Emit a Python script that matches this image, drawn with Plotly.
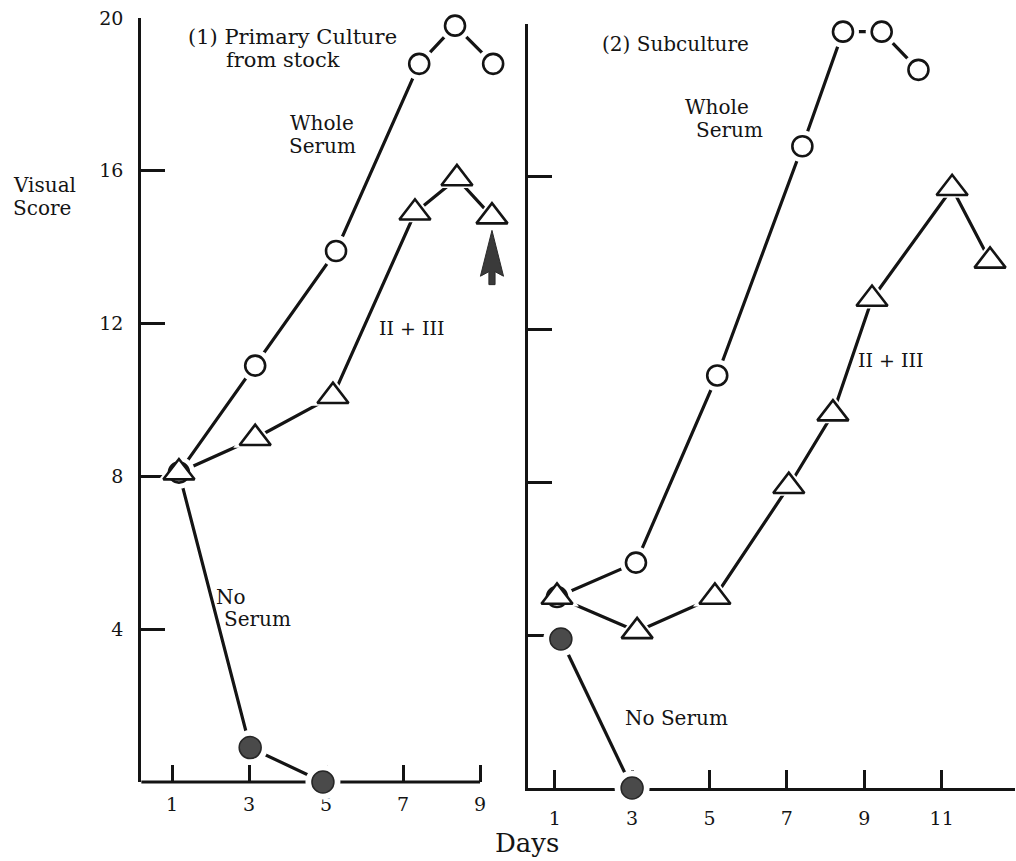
import plotly.graph_objects as go

# ---- data: visual score by day ----
# Panel 1: primary culture from stock
p1_whole_days = [1.18, 3.16, 5.26, 7.42, 8.35, 9.34]
p1_whole_score = [8.1, 10.9, 13.9, 18.8, 19.8, 18.8]
p1_frac_days = [1.18, 3.16, 5.18, 7.31, 8.4, 9.31]
p1_frac_score = [8.1, 9.0, 10.1, 14.9, 15.8, 14.8]
p1_none_days = [1.18, 3.03, 4.92]
p1_none_score = [8.1, 0.9, 0.0]

# Panel 2: subculture
p2_whole_days = [1.06, 3.1, 5.2, 7.4, 8.45, 9.45, 10.4]
p2_whole_score = [5.0, 5.9, 10.8, 16.8, 19.8, 19.8, 18.8]
p2_frac_days = [1.06, 3.13, 5.14, 7.05, 8.19, 9.2, 11.27, 12.25]
p2_frac_score = [5.0, 4.1, 5.0, 7.9, 9.8, 12.8, 15.7, 13.8]
p2_none_days = [1.16, 3.0]
p2_none_score = [3.9, 0.0]

x_ticks_1 = [1, 3, 5, 7, 9]
x_ticks_2 = [1, 3, 5, 7, 9, 11]
y_ticks = [4, 8, 12, 16, 20]

W, H = 1016, 861
INK = "#141414"
FONT = "DejaVu Serif"

fig = go.Figure()


def px_x(p):
    return p / W


def px_y(p):
    return 1 - p / H


def add_line(days, score, xa, ya):
    fig.add_trace(go.Scatter(x=days, y=score, xaxis=xa, yaxis=ya, mode="lines",
                             line=dict(color=INK, width=3.2), hoverinfo="skip",
                             showlegend=False))


def add_halo(days, score, xa, ya, kind):
    # white backing so the connecting lines stop short of each symbol
    sym = {"circle": "circle", "tri": "triangle-up", "dot": "circle"}[kind]
    size = {"circle": 32, "tri": 38, "dot": 35}[kind]
    fig.add_trace(go.Scatter(x=days, y=score, xaxis=xa, yaxis=ya, mode="markers",
                             marker=dict(symbol=sym, size=size, color="white",
                                         line=dict(width=0)),
                             cliponaxis=False, hoverinfo="skip", showlegend=False))


def add_marks(days, score, xa, ya, kind):
    if kind == "circle":
        m = dict(symbol="circle", size=20, color="white",
                 line=dict(color=INK, width=2.6))
    elif kind == "tri":
        m = dict(symbol="triangle-up", size=27, color="white",
                 line=dict(color=INK, width=2.6))
    else:
        m = dict(symbol="circle", size=22, color="#4a4a4a",
                 line=dict(color="#262626", width=1.5))
    fig.add_trace(go.Scatter(x=days, y=score, xaxis=xa, yaxis=ya, mode="markers",
                             marker=m, cliponaxis=False, showlegend=False))


# (days, score, symbol kind, index of first plotted symbol)
panels = [
    ("x", "y", [(p1_whole_days, p1_whole_score, "circle", 0),
                (p1_frac_days, p1_frac_score, "tri", 0),
                (p1_none_days, p1_none_score, "dot", 1)]),
    ("x2", "y2", [(p2_whole_days, p2_whole_score, "circle", 0),
                  (p2_frac_days, p2_frac_score, "tri", 0),
                  (p2_none_days, p2_none_score, "dot", 0)]),
]

for xa, ya, series in panels:
    for d, s, k, i0 in series:
        add_line(d, s, xa, ya)
    for d, s, k, i0 in series:
        add_halo(d[i0:], s[i0:], xa, ya, k)
    for d, s, k, i0 in series:
        add_marks(d[i0:], s[i0:], xa, ya, k)

axis_common = dict(showgrid=False, zeroline=False, ticks="inside", tickcolor=INK,
                   tickwidth=3, layer="below traces", fixedrange=True,
                   automargin=False,
                   tickfont=dict(family=FONT, size=19, color=INK))

fig.update_layout(
    width=W, height=H,
    margin=dict(l=0, r=0, t=0, b=0, autoexpand=False),
    paper_bgcolor="white", plot_bgcolor="rgba(0,0,0,0)",
    xaxis=dict(domain=[141.2 / W, 507 / W], range=[0.2, 9.7], anchor="y",
               tickvals=x_ticks_1, ticklen=17, showline=False,
               ticklabelstandoff=9, **axis_common),
    yaxis=dict(domain=[px_y(782), px_y(18)], range=[0, 20], anchor="x",
               tickvals=y_ticks, ticklen=24, showline=True, linewidth=3,
               linecolor=INK, ticklabelstandoff=11, **axis_common),
    xaxis2=dict(domain=[527.6 / W, 1015.2 / W], range=[0.3, 12.9], anchor="y2",
                tickvals=x_ticks_2, ticklen=18, showline=True, linewidth=3,
                linecolor=INK, ticklabelstandoff=11, **axis_common),
    yaxis2=dict(domain=[px_y(788), px_y(24)], range=[0, 20], anchor="x2",
                tickvals=y_ticks, ticklen=24, showline=True, linewidth=3,
                linecolor=INK, showticklabels=False, **axis_common),
)

# x axis of panel 1 stops at the last labelled day
fig.add_shape(type="line", xref="x", yref="paper", x0=0.2, x1=x_ticks_1[-1],
              y0=px_y(782), y1=px_y(782), line=dict(color=INK, width=3),
              layer="below")

# arrow under the last II + III point of panel 1
ax_, ay_ = p1_frac_days[-1], p1_frac_score[-1]
tip = ay_ - 0.36
arrow_path = (f"M{ax_},{tip} L{ax_ + 0.3},{tip - 1.2} L{ax_ + 0.08},{tip - 1.08} "
              f"L{ax_ + 0.08},{tip - 1.42} L{ax_ - 0.08},{tip - 1.42} "
              f"L{ax_ - 0.08},{tip - 1.08} L{ax_ - 0.3},{tip - 1.2} Z")
fig.add_shape(type="path", xref="x", yref="y", path=arrow_path,
              fillcolor="#3a3a3a", line=dict(color="#2a2a2a", width=1))


def label(text, x, y, size=20, xanchor="left", align="left", bold=False):
    t = f"<b>{text}</b>" if bold else text
    fig.add_annotation(text=t, x=px_x(x), y=px_y(y), xref="paper", yref="paper",
                       xanchor=xanchor, yanchor="middle", align=align,
                       showarrow=False,
                       font=dict(family=FONT, size=size, color=INK))


label("(1) Primary Culture", 186, 37, size=21)
label("from stock", 224, 60, size=21)
label("Whole", 322, 123, xanchor="center")
label("Serum", 322, 146, xanchor="center")
label("II + III", 412, 328, size=19, xanchor="center")
label("No", 214, 597)
label("Serum", 222, 619)
label("Visual", 11, 185)
label("Score", 11, 208)

label("(2) Subculture", 600, 44)
label("Whole", 717, 107, xanchor="center")
label("Serum", 729, 130, xanchor="center")
label("II + III", 891, 360, size=19, xanchor="center")
label("No Serum", 676, 718, xanchor="center")

label("Days", 527, 843, size=26, xanchor="center")

fig.write_html("out.html")
